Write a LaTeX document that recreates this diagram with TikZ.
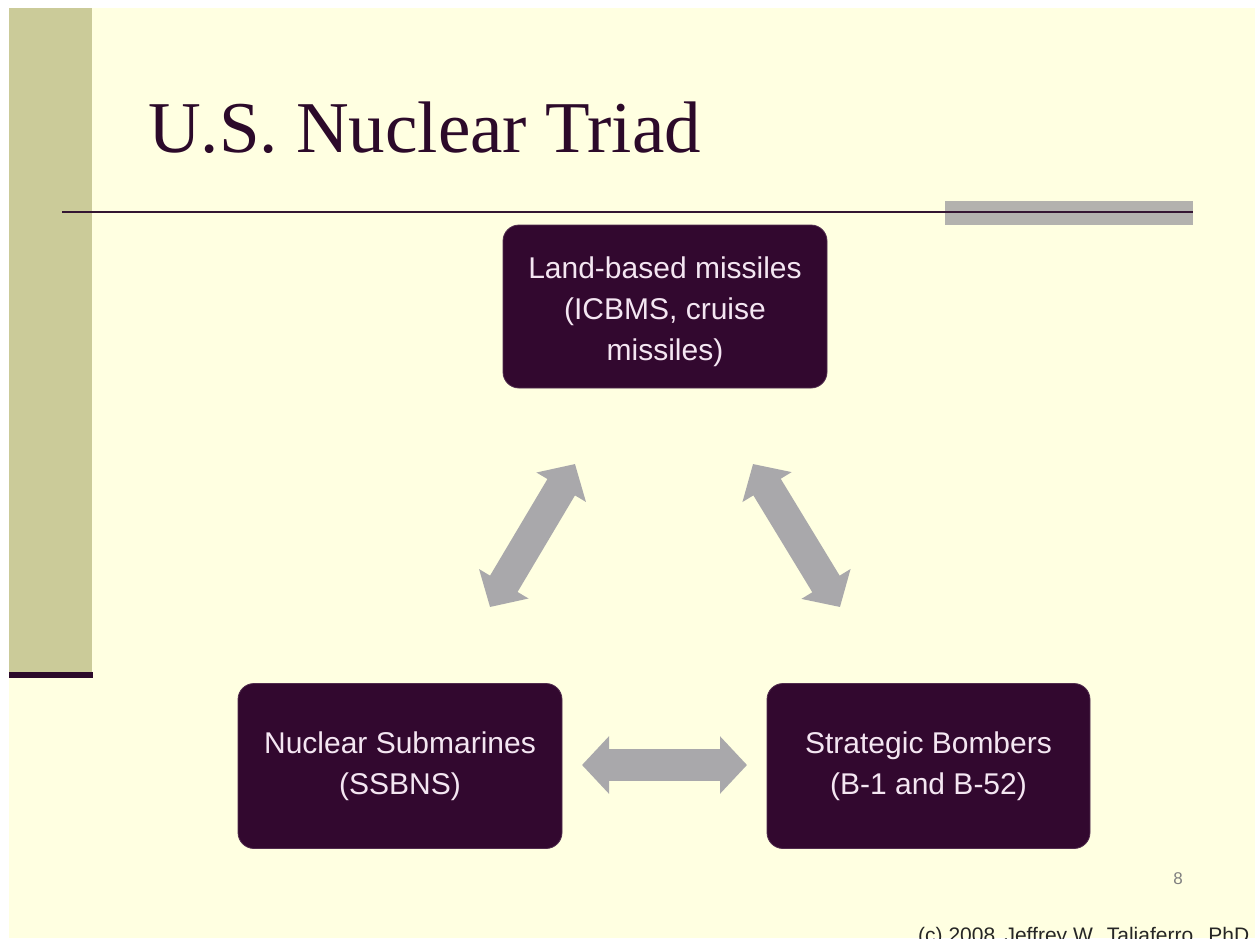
\documentclass[tikz,border=0pt]{standalone}
\usepackage{fontspec}
\setmainfont{Liberation Serif}
\newfontfamily\arialfont{Liberation Sans}
\usetikzlibrary{arrows.meta}
\definecolor{cream}{HTML}{FFFFE1}
\definecolor{olive}{HTML}{CBCB99}
\definecolor{boxpurple}{HTML}{32082F}
\definecolor{titlepurple}{HTML}{2C0A2A}
\definecolor{arrowgray}{HTML}{A9A8AB}
\definecolor{bargray}{HTML}{B3B2AE}
\definecolor{boxtext}{HTML}{F4E6F2}
\tikzset{
  triadbox/.style={draw=boxpurple!85!white, line width=0.8pt, fill=boxpurple, rounded corners=16pt,
    text=boxtext, font=\arialfont\fontsize{30}{41}\selectfont, align=center, inner sep=0pt},
  blockarrow/.style={draw=arrowgray, line width=32pt,
    {Triangle[width=56pt,length=27pt]}-{Triangle[width=56pt,length=27pt]}}
}
\begin{document}
\begin{tikzpicture}[x=1pt,y=-1pt]
\useasboundingbox (0,0) rectangle (1255,938);
\begin{scope}
\clip (0,0) rectangle (1255,938);
% background
\fill[white] (0,0) rectangle (1255,938);
\fill[cream] (9,8) rectangle (1255,938);
% sidebar
\fill[olive] (9,8) rectangle (92,673);
\fill[titlepurple] (9,672) rectangle (93,678);
% title
\node[anchor=base west, inner sep=0pt, text=titlepurple, font=\fontsize{73}{80}\selectfont] (title) at (148,152) {U.S. Nuclear Triad};
% rule and bar
\fill[bargray] (945,201) rectangle (1193,225);
\draw[line width=2.5pt, titlepurple!90!gray] (62,212) -- (1193,212);
% boxes
\node[triadbox, minimum width=324pt, minimum height=163pt] (land) at (665,306.5) {};
\node[text=boxtext, font=\arialfont\fontsize{30}{41}\selectfont, align=center, inner sep=0pt] (landtext) at (665,312)
  {Land-based missiles\\(ICBMS, cruise\\missiles)};
\node[triadbox, minimum width=324pt, minimum height=165pt] (sub) at (400,766)
  {Nuclear Submarines\\(SSBNS)};
\node[triadbox, minimum width=323pt, minimum height=165pt] (bomb) at (928.5,766)
  {Strategic Bombers\\(B-1 and B-52)};
% arrow end points
\coordinate (a1s) at (490,607);
\coordinate (a1e) at (575,464);
\coordinate (a2s) at (753,464);
\coordinate (a2e) at (840,607);
\coordinate (a3s) at (582,765);
\coordinate (a3e) at (747,765);
\draw[blockarrow] (a1s) -- (a1e);
\draw[blockarrow] (a2s) -- (a2e);
\draw[blockarrow] (a3s) -- (a3e);
% page number and footer
\node[text=gray, font=\arialfont\fontsize{17}{20}\selectfont, inner sep=0pt] (page) at (1178,879) {8};
\node[anchor=base west, inner sep=0pt, text=black!85, font=\arialfont\fontsize{21}{24}\selectfont] (footer) at (918,942) {(c) 2008\, Jeffrey W.\, Taliaferro,\, PhD};
\end{scope}
\end{tikzpicture}
\end{document}
